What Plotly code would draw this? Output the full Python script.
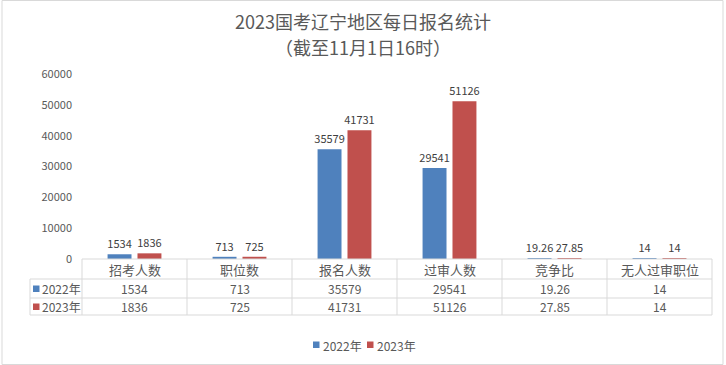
import plotly.graph_objects as go

title_lines = ["2023国考辽宁地区每日报名统计", "（截至11月1日16时）"]
categories = ["招考人数", "职位数", "报名人数", "过审人数", "竞争比", "无人过审职位"]
series_names = ["2022年", "2023年"]
values_2022 = [1534, 713, 35579, 29541, 19.26, 14]
values_2023 = [1836, 725, 41731, 51126, 27.85, 14]
colors = ["#4F81BD", "#C0504D"]

W, H = 726, 365
L, R, T, B = 82, 712, 74, 259


def fx(px):
    return (px - L) / (R - L)


def fy(py):
    return (B - py) / (B - T)


def fmt(v):
    return f"{v:g}"


font_c = "Noto Sans CJK SC"
fig = go.Figure()
for name, vals, col in zip(series_names, [values_2022, values_2023], colors):
    fig.add_trace(go.Bar(
        x=categories, y=vals, name=name, marker=dict(color=col, line=dict(width=0)),
        text=[fmt(v) for v in vals], textposition="outside", cliponaxis=False, constraintext="none",
        textfont=dict(size=11, color="#404040", family=font_c),
        showlegend=False,
    ))

shapes = []
line_col = "#D9D9D9"
# outer border
shapes.append(dict(type="rect", xref="paper", yref="paper", x0=fx(2), x1=fx(723), y0=fy(364.5), y1=fy(0.5),
                   line=dict(color="#D9D9D9", width=1), layer="below"))
# table horizontal lines
shapes.append(dict(type="line", xref="paper", yref="paper", x0=fx(L), x1=fx(R), y0=fy(B), y1=fy(B),
                   line=dict(color=line_col, width=1)))
for py in [279, 298, 315]:
    shapes.append(dict(type="line", xref="paper", yref="paper", x0=fx(30), x1=fx(R), y0=fy(py), y1=fy(py),
                       line=dict(color=line_col, width=1)))
n = len(categories)
for k in range(n + 1):
    px = L + (R - L) * k / n
    shapes.append(dict(type="line", xref="paper", yref="paper", x0=fx(px), x1=fx(px), y0=fy(B), y1=fy(315),
                       line=dict(color=line_col, width=1)))
shapes.append(dict(type="line", xref="paper", yref="paper", x0=fx(30), x1=fx(30), y0=fy(279), y1=fy(315),
                   line=dict(color=line_col, width=1)))

annotations = []
# title lines
for txt, py in zip(title_lines, [21, 47]):
    annotations.append(dict(xref="paper", yref="paper", x=fx(363), y=fy(py), text=txt, showarrow=False,
                            font=dict(size=18, color="#595959", family=font_c), xanchor="center", yanchor="middle"))
for i, c in enumerate(categories):
    cx = L + (R - L) * (i + 0.5) / n
    annotations.append(dict(xref="paper", yref="paper", x=fx(cx), y=fy(269.5), text=c, showarrow=False,
                            font=dict(size=13, color="#595959", family=font_c), xanchor="center", yanchor="middle"))
    for vals, py in [(values_2022, 288.5), (values_2023, 306.5)]:
        annotations.append(dict(xref="paper", yref="paper", x=fx(cx), y=fy(py), text=fmt(vals[i]), showarrow=False,
                                font=dict(size=12, color="#595959", family=font_c), xanchor="center", yanchor="middle"))
for name, col, py in zip(series_names, colors, [288.5, 306.5]):
    shapes.append(dict(type="rect", xref="paper", yref="paper", x0=fx(33), x1=fx(39.5), y0=fy(py + 3.5), y1=fy(py - 3),
                       fillcolor=col, line=dict(width=0)))
    annotations.append(dict(xref="paper", yref="paper", x=fx(40), y=fy(py), text=name, showarrow=False,
                            font=dict(size=12, color="#595959", family=font_c), xanchor="left", yanchor="middle"))

# legend (drawn manually)
for name, col, lx in zip(series_names, colors, [313, 367]):
    shapes.append(dict(type="rect", xref="paper", yref="paper", x0=fx(lx), x1=fx(lx + 6.5), y0=fy(348), y1=fy(341.5),
                       fillcolor=col, line=dict(width=0)))
    annotations.append(dict(xref="paper", yref="paper", x=fx(lx + 7.5), y=fy(345), text=name, showarrow=False,
                            font=dict(size=12, color="#595959", family=font_c), xanchor="left", yanchor="middle"))

fig.update_layout(
    width=W, height=H,
    margin=dict(l=L, r=W - R, t=T, b=H - B, pad=0, autoexpand=False),
    paper_bgcolor="white", plot_bgcolor="white",
    barmode="group", bargap=0.43, bargroupgap=0.2,
    xaxis=dict(showticklabels=False, showline=False, ticks="", showgrid=False, zeroline=False),
    yaxis=dict(range=[0, 60000], dtick=10000, tickformat="d", showgrid=False, zeroline=False, showline=False,
               ticks="", tickfont=dict(size=11, color="#595959", family=font_c), ticklabelstandoff=9),
    showlegend=False,
    shapes=shapes, annotations=annotations,
    font=dict(family=font_c),
)

fig.write_html("out.html", config={"displayModeBar": False},
               post_script="document.body.style.margin='0px';document.body.style.overflow='hidden';")
